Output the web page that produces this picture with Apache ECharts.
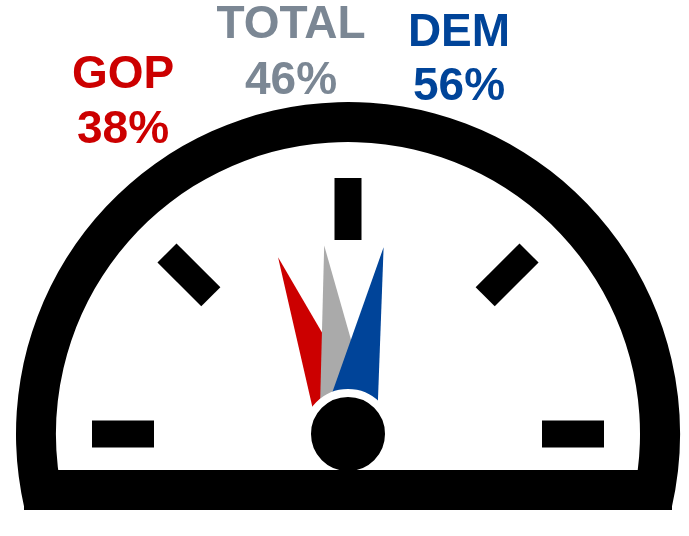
<!DOCTYPE html>
<html>
<head>
<meta charset="utf-8">
<script src="https://cdn.jsdelivr.net/npm/echarts@6/dist/echarts.min.js"></script>
<style>
  html, body { margin: 0; padding: 0; background: #fff; }
  #chart { width: 689px; height: 536px; }
</style>
</head>
<body>
<div id="chart"></div>
<script>
// groups and their values (percent)
var groups = ["GOP", "TOTAL", "DEM"];
var values = [38, 46, 56];
var needleColors = ["#cc0000", "#aaaaaa", "#004499"];
var labelColors = ["#cc0000", "#7b8794", "#004499"];
// label offsets from the gauge centre: [x, nameY, valueY]
var labelOffsets = [[-225, -359, -304], [-57, -409, -353], [111, -401, -347]];

var chart = echarts.init(document.getElementById("chart"));
var cx = 348, cy = 434;
var font = "'Liberation Sans', Arial, sans-serif";

var gaugeData = groups.map(function (name, i) {
  var off = labelOffsets[i];
  return {
    name: name,
    value: values[i],
    itemStyle: { color: needleColors[i] },
    title: { offsetCenter: [off[0], off[1]], color: labelColors[i] },
    detail: { offsetCenter: [off[0], off[2]], color: labelColors[i] }
  };
});

var option = {
  backgroundColor: "#fff",
  animation: false,
  series: [
    {
      // outer frame of the dial
      type: "gauge",
      center: [cx, cy],
      radius: 332,
      startAngle: 193,
      endAngle: -13,
      axisLine: { lineStyle: { width: 40, color: [[1, "#000"]] } },
      axisTick: { show: false },
      splitLine: { show: false },
      axisLabel: { show: false },
      pointer: { show: false },
      anchor: { show: false },
      title: { show: false },
      detail: { show: false },
      data: [{ value: 0 }]
    },
    {
      type: "gauge",
      center: [cx, cy],
      radius: 256,
      startAngle: 180,
      endAngle: 0,
      min: 0,
      max: 100,
      splitNumber: 4,
      axisLine: { show: false, lineStyle: { width: 0 } },
      axisTick: { show: false },
      splitLine: { length: 62, distance: 0, lineStyle: { width: 27, color: "#000" } },
      axisLabel: { show: false },
      pointer: { icon: "triangle", length: 190, width: 58, offsetCenter: [0, 0] },
      anchor: {
        show: true,
        showAbove: true,
        size: 82,
        itemStyle: { color: "#000", borderColor: "#fff", borderWidth: 8 }
      },
      title: { fontFamily: font, fontWeight: "bold", fontSize: 46 },
      detail: {
        fontFamily: font,
        fontWeight: "bold",
        fontSize: 46,
        formatter: "{value}%"
      },
      data: gaugeData
    }
  ],
  graphic: [
    {
      // base bar of the dial
      type: "rect",
      z: 100,
      shape: { x: 24, y: 470, width: 648, height: 40 },
      style: { fill: "#000" }
    }
  ]
};

chart.setOption(option);
window.addEventListener("resize", function () {
  chart.resize();
});
</script>
</body>
</html>
